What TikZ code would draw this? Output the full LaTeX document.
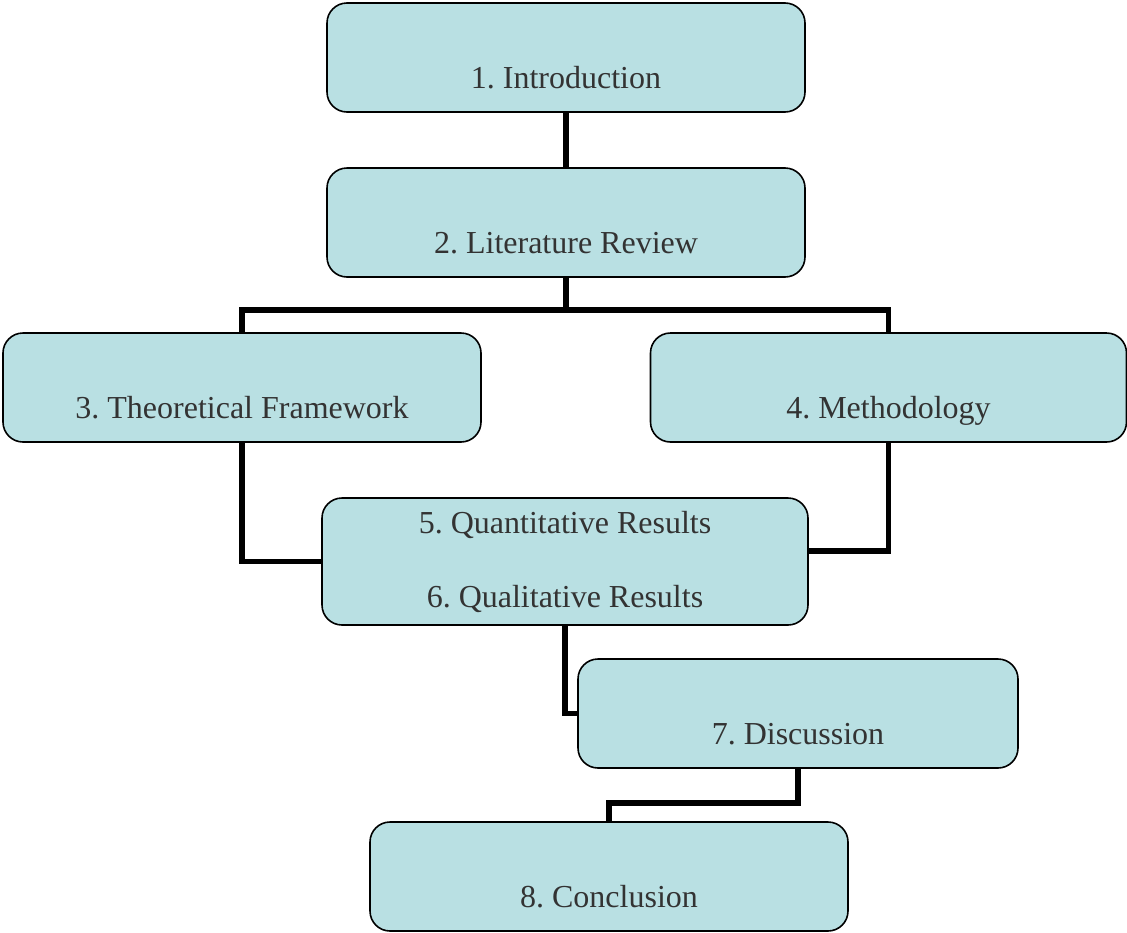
\documentclass[tikz,border=0pt]{standalone}
\usepackage{fontspec}
\setmainfont{Liberation Serif}
\frenchspacing
\definecolor{boxfill}{RGB}{185,224,227}
\definecolor{txt}{RGB}{51,51,51}
\tikzset{
  box/.style={draw=black, line width=1.2pt, fill=boxfill, rounded corners=15pt,
    minimum width=358.5pt, minimum height=81.75pt, inner sep=0pt,
    font=\fontsize{24}{28}\selectfont, text=txt},
  lowtext/.style={text height=45.75pt, text depth=0pt},
  conn/.style={line width=4.2pt, line join=miter, draw=black}
}
\begin{document}
\begin{tikzpicture}[x=0.75pt, y=-0.75pt]
\useasboundingbox (0,0) rectangle (1127,932);
\node[box, lowtext] (b1) at (566,57.5) {1. Introduction};
\node[box, lowtext] (b2) at (566,222.5) {2. Literature Review};
\node[box, lowtext] (b3) at (242,387.5) {3. Theoretical Framework};
\node[box, lowtext, minimum width=357pt] (b4) at (888.5,387.5) {4. Methodology};
\node[box, minimum width=364.5pt, minimum height=95.25pt, align=center,
  font=\fontsize{24}{55.5}\selectfont] (b5) at (565,561.5)
  {5. Quantitative Results\\6. Qualitative Results};
\node[box, lowtext, minimum width=330pt] (b7) at (798,713.5) {7. Discussion};
\node[box, lowtext] (b8) at (609,876.5) {8. Conclusion};
\draw[conn] (b1.south) -- (b2.north);
\draw[conn] (b2.south) -- ++(0,32) coordinate (j2) -| (b3.north);
\draw[conn] (j2) -| (b4.north);
\draw[conn] (b3.south) |- (b5.west);
\draw[conn] (b4.south) |- ([yshift=7.9pt]b5.east);
\draw[conn] (b5.south) |- (b7.west);
\draw[conn] (b7.south) -- ++(0,34) -| (b8.north);
\end{tikzpicture}
\end{document}
